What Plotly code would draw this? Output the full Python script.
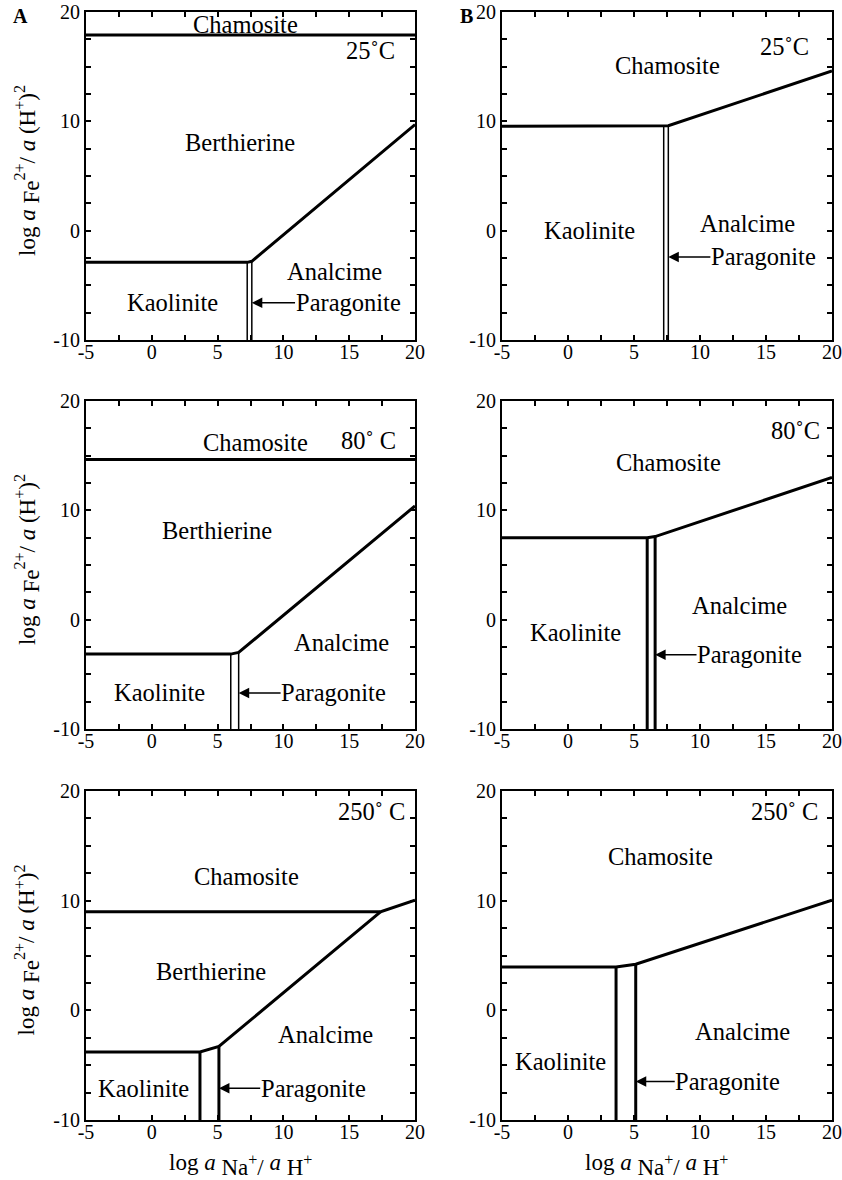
import plotly.graph_objects as go

W, H = 842, 1180
FONT = "Liberation Serif"

# ---------------- data (boundary lines per panel) ----------------
# panel A, 25 C
A25_THICK_X = [[-5, 20], [-5, 7.25, 7.6, 20]]
A25_THICK_Y = [[17.9, 17.9], [-2.9, -2.9, -2.8, 9.7]]
A25_THIN_X = [[7.25, 7.25], [7.6, 7.6]]
A25_THIN_Y = [[-10, -2.9], [-10, -2.8]]
# panel B, 25 C
B25_THICK_X = [[-5, 7.25, 7.6, 20]]
B25_THICK_Y = [[9.55, 9.55, 9.6, 14.6]]
B25_THIN_X = [[7.25, 7.25], [7.6, 7.6]]
B25_THIN_Y = [[-10, 9.55], [-10, 9.6]]
# panel A, 80 C
A80_THICK_X = [[-5, 20], [-5, 6.0, 6.6, 20]]
A80_THICK_Y = [[14.65, 14.65], [-3.15, -3.15, -3.0, 10.4]]
A80_THIN_X = [[6.0, 6.0], [6.6, 6.6]]
A80_THIN_Y = [[-10, -3.15], [-10, -3.0]]
# panel B, 80 C
B80_THICK_X = [[-5, 6.0, 6.6, 20], [6.0, 6.0], [6.6, 6.6]]
B80_THICK_Y = [[7.5, 7.5, 7.6, 13.0], [-10, 7.5], [-10, 7.6]]
B80_THIN_X = []
B80_THIN_Y = []
# panel A, 250 C
A250_THICK_X = [[-5, 17.4, 20], [-5, 3.66, 5.1, 17.4], [3.66, 3.66], [5.1, 5.1]]
A250_THICK_Y = [[9.0, 9.0, 10.05], [-3.8, -3.8, -3.3, 9.0], [-10, -3.8], [-10, -3.3]]
A250_THIN_X = []
A250_THIN_Y = []
# panel B, 250 C
B250_THICK_X = [[-5, 3.64, 5.13, 20], [3.64, 3.64], [5.13, 5.13]]
B250_THICK_Y = [[3.95, 3.95, 4.2, 10.05], [-10, 3.95], [-10, 4.2]]
B250_THIN_X = []
B250_THIN_Y = []

# field labels: (text, x, y)
A25_LABELS = [("Chamosite", 7.1, 18.85), ("25˚C", 16.6, 16.5), ("Berthierine", 6.7, 8.1),
              ("Analcime", 13.9, -3.7), ("Kaolinite", 1.6, -6.6)]
B25_LABELS = [("Chamosite", 7.55, 15.15), ("25˚C", 16.4, 16.8), ("Kaolinite", 1.6, 0.0),
              ("Analcime", 13.6, 0.67)]
A80_LABELS = [("Chamosite", 7.9, 16.2), ("80˚ C", 16.5, 16.4), ("Berthierine", 4.95, 8.2),
              ("Analcime", 14.4, -2.1), ("Kaolinite", 0.6, -6.7)]
B80_LABELS = [("80˚C", 17.2, 17.3), ("Chamosite", 7.6, 14.4), ("Analcime", 13.0, 1.3),
              ("Kaolinite", 0.6, -1.2)]
A250_LABELS = [("250˚ C", 16.7, 18.1), ("Chamosite", 7.2, 12.2), ("Berthierine", 4.5, 3.5),
               ("Analcime", 13.2, -2.2), ("Kaolinite", -0.6, -7.1)]
B250_LABELS = [("250˚ C", 16.4, 18.1), ("Chamosite", 7.0, 14.0), ("Analcime", 13.2, -1.9),
               ("Kaolinite", -0.6, -4.7)]

# Paragonite arrows: (tail x, head x, y)
A25_ARROW = (11.0, 7.6, -6.6)
B25_ARROW = (10.9, 7.6, -2.4)
A80_ARROW = (9.9, 6.6, -6.7)
B80_ARROW = (9.85, 6.6, -3.2)
A250_ARROW = (8.35, 5.1, -7.1)
B250_ARROW = (8.2, 5.13, -6.5)

X_TICKS = [-5, -2.5, 0, 2.5, 5, 7.5, 10, 12.5, 15, 17.5, 20]
X_TICKTEXT = ["-5", "", "0", "", "5", "", "10", "", "15", "", "20"]
Y_TICKS = [-10, -7.5, -5, -2.5, 0, 2.5, 5, 7.5, 10, 12.5, 15, 17.5, 20]
Y_TICKTEXT = ["-10", "", "", "", "0", "", "", "", "10", "", "", "", "20"]

# ---------------- layout geometry (pixels) ----------------
COLS = [(86, 415), (502, 832)]
ROWS = [(12, 340), (401, 729), (791, 1120)]
LABEL_SIZE = 24.5

panels = [
    (A25_THICK_X, A25_THICK_Y, A25_THIN_X, A25_THIN_Y, A25_LABELS, A25_ARROW),
    (B25_THICK_X, B25_THICK_Y, B25_THIN_X, B25_THIN_Y, B25_LABELS, B25_ARROW),
    (A80_THICK_X, A80_THICK_Y, A80_THIN_X, A80_THIN_Y, A80_LABELS, A80_ARROW),
    (B80_THICK_X, B80_THICK_Y, B80_THIN_X, B80_THIN_Y, B80_LABELS, B80_ARROW),
    (A250_THICK_X, A250_THICK_Y, A250_THIN_X, A250_THIN_Y, A250_LABELS, A250_ARROW),
    (B250_THICK_X, B250_THICK_Y, B250_THIN_X, B250_THIN_Y, B250_LABELS, B250_ARROW),
]

fig = go.Figure()
annotations = []
layout = dict(
    width=W, height=H, autosize=False, template="none",
    margin=dict(l=0, r=0, t=0, b=0), showlegend=False,
    paper_bgcolor="white", plot_bgcolor="white",
    font=dict(family=FONT, color="black", size=20),
)

for i, (tx, ty, nx, ny, labels, arrow) in enumerate(panels):
    r, c = divmod(i, 2)
    n = "" if i == 0 else str(i + 1)
    xa, ya = "x" + n, "y" + n
    x0, x1 = COLS[c]
    y0, y1 = ROWS[r]
    axis_common = dict(
        showline=True, linewidth=2, linecolor="black", mirror="ticks",
        ticks="inside", ticklen=5, tickwidth=1.5, tickcolor="black",
        showgrid=False, zeroline=False, automargin=False,
        tickfont=dict(family=FONT, size=20, color="black"), fixedrange=True,
        ticklabeloverflow="allow",
    )
    layout["xaxis" + n] = dict(axis_common, domain=[x0 / W, x1 / W], range=[-5, 20],
                               tickvals=X_TICKS, ticktext=X_TICKTEXT, anchor=ya,
                               ticklabelstandoff=-7)
    layout["yaxis" + n] = dict(axis_common, domain=[1 - y1 / H, 1 - y0 / H], range=[-10, 20],
                               tickvals=Y_TICKS, ticktext=Y_TICKTEXT, anchor=xa)
    for xs, ys in zip(tx, ty):
        fig.add_trace(go.Scatter(x=xs, y=ys, mode="lines", xaxis=xa, yaxis=ya,
                                 line=dict(color="black", width=3), hoverinfo="skip"))
    for xs, ys in zip(nx, ny):
        fig.add_trace(go.Scatter(x=xs, y=ys, mode="lines", xaxis=xa, yaxis=ya,
                                 line=dict(color="black", width=1.5), hoverinfo="skip"))
    for text, lx, ly in labels:
        annotations.append(dict(text=text, x=lx, y=ly, xref=xa, yref=ya, showarrow=False,
                                xanchor="center", yanchor="middle",
                                font=dict(family=FONT, size=LABEL_SIZE, color="black")))
    tail, head, ay = arrow
    annotations.append(dict(text="", x=head, y=ay, ax=tail, ay=ay, xref=xa, yref=ya,
                            axref=xa, ayref=ya, showarrow=True, arrowhead=2,
                            arrowsize=1.4, arrowwidth=1.5, arrowcolor="black", standoff=0))
    annotations.append(dict(text="Paragonite", x=tail, y=ay, xref=xa, yref=ya, showarrow=False,
                            xanchor="left", yanchor="middle", xshift=-3,
                            font=dict(family=FONT, size=LABEL_SIZE, color="black")))

# axis titles
SUBSZ = "font-size:23px"
YTITLE = ("log <i>a</i> <sub><span style='" + SUBSZ + "'>Fe</span></sub><sup>2+</sup>/ "
          "<i>a</i> (H<sup>+</sup>)<sup>2</sup>")
XTITLE = ("log <i>a</i> <sub><span style='" + SUBSZ + "'>Na<sup>+</sup>/</span></sub> "
          "<i>a</i> <sub><span style='" + SUBSZ + "'>H<sup>+</sup></span></sub>")
for (y0, y1) in ROWS:
    yc = (y0 + y1) / 2 - 5
    annotations.append(dict(text=YTITLE, x=27 / W, y=1 - yc / H, xref="paper", yref="paper",
                            showarrow=False, textangle=-90, xanchor="center", yanchor="middle",
                            font=dict(family=FONT, size=23, color="black")))
for xc in (240, 656):
    annotations.append(dict(text=XTITLE, x=xc / W, y=1 - 1165 / H, xref="paper", yref="paper",
                            showarrow=False, xanchor="center", yanchor="middle",
                            font=dict(family=FONT, size=23, color="black")))
for txt, px in (("A", 20), ("B", 467)):
    annotations.append(dict(text="<b>" + txt + "</b>", x=px / W, y=1 - 16 / H, xref="paper",
                            yref="paper", showarrow=False, xanchor="center", yanchor="middle",
                            font=dict(family=FONT, size=20, color="black")))

layout["annotations"] = annotations
fig.update_layout(**layout)
fig.write_html("out.html", config={"displayModeBar": False},
               post_script="document.body.style.margin='0';document.body.style.overflow='hidden';")
